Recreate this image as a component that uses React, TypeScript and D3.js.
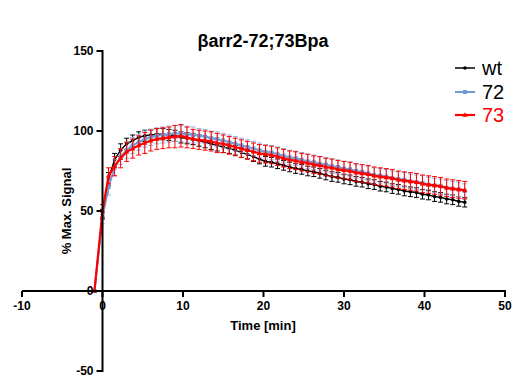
import React from "react";
import * as d3 from "d3";

const W = 519;
const H = 382;

const times = [-1, 0, 0.75, 1.5, 2.25, 3, 3.75, 4.5, 5.25, 6, 6.75, 7.5, 8.25, 9, 9.75, 10.5, 11.25, 12, 12.75, 13.5, 14.25, 15, 15.75, 16.5, 17.25, 18, 18.75, 19.5, 20.25, 21, 21.75, 22.5, 23.25, 24, 24.75, 25.5, 26.25, 27, 27.75, 28.5, 29.25, 30, 30.75, 31.5, 32.25, 33, 33.75, 34.5, 35.25, 36, 36.75, 37.5, 38.25, 39, 39.75, 40.5, 41.25, 42, 42.75, 43.5, 44.25, 45];

const wtValues = [0, 48, 70, 82, 88, 92, 94, 96, 97, 97.5, 98, 98, 97.5, 97, 96, 95.5, 95, 94, 93, 92, 91, 90, 89, 88, 86.5, 85.5, 84, 82.5, 81, 80.5, 79.5, 78.5, 77.5, 76.5, 76, 75, 74.5, 73.5, 72.5, 71.5, 71, 70, 69.5, 68.5, 68, 67, 66.5, 65.5, 65, 64, 63.5, 62.5, 62, 61.5, 60.5, 60, 59, 58.5, 57.5, 57, 56, 55.5];
const wtErr = [0, 3, 4, 4, 4, 3.5, 3.5, 3.5, 3.5, 3.5, 3.5, 3.5, 3.5, 3.5, 3.5, 3.5, 3.5, 3.5, 3.5, 3.5, 3.5, 3.5, 3, 3, 3, 3, 3, 3, 3, 3, 3, 3, 3, 3, 3, 3, 3, 3, 3, 3, 3, 3, 3, 3, 3, 3, 3, 3, 3, 3, 3, 3, 3, 3, 3, 3, 3, 3, 3, 3, 3, 3];

const v72Values = [0, 46, 65, 77, 84, 88, 91, 93, 95, 96, 97, 97.5, 98, 98.5, 98.5, 98, 97.5, 97, 96.5, 95.5, 95, 94, 93, 92, 91, 90, 89, 88, 87, 86.5, 85.5, 84.5, 83.5, 83, 82, 81, 80.5, 79.5, 79, 78, 77.5, 76.5, 76, 75, 74.5, 73.5, 72.5, 72, 71.5, 70.5, 70, 69.5, 68.5, 68, 67.5, 66.5, 66, 65.5, 64.5, 64, 63.5, 62.5];
const v72Err = [0, 4, 5, 5, 5, 5, 5, 5, 5, 5, 5, 5, 5, 5, 5, 5, 5, 4.5, 4.5, 4.5, 4.5, 4.5, 4.5, 4.5, 4.5, 4.5, 4.5, 4.5, 4.5, 4.5, 4.5, 4.5, 4.5, 4.5, 4.5, 4.5, 4.5, 4.5, 4.5, 4.5, 4.5, 4.5, 4.5, 4.5, 4.5, 4.5, 4.5, 4.5, 4.5, 4.5, 4.5, 4.5, 4.5, 4.5, 4.5, 4.5, 4.5, 4.5, 4.5, 4.5, 4.5, 4.5];

const v73Values = [0, 50, 72, 78, 83, 87, 89, 91, 92.5, 94, 95, 95.5, 96, 96.5, 97, 96, 95, 94.5, 94, 93.5, 92.5, 92, 91, 90, 89, 88, 87, 86, 85.5, 85, 84, 83, 82, 81.5, 80.5, 80, 79, 78.5, 77.5, 77, 76, 75.5, 75, 74, 73.5, 73, 72, 71.5, 71, 70.5, 69.5, 69, 68.5, 68, 67, 66.5, 66, 65.5, 64.5, 64, 63.5, 63];
const v73Err = [0, 4, 5, 6, 6, 6, 6, 6, 6.5, 6.5, 6.5, 6.5, 6.5, 7, 7, 6.5, 6, 6, 6, 6, 6, 5.5, 5.5, 5.5, 5.5, 5.5, 5.5, 5.5, 5.5, 5.5, 5.5, 5.5, 5.5, 5.5, 5.5, 5.5, 5.5, 5.5, 5.5, 5.5, 5.5, 5.5, 5.5, 5.5, 5.5, 5.5, 5.5, 5.5, 5.5, 5.5, 5.5, 5.5, 5.5, 5.5, 5.5, 5.5, 5.5, 5.5, 5.5, 5.5, 5.5, 5.5];

const seriesNames = ["wt", "72", "73"];
const xTicks = [-10, 0, 10, 20, 30, 40, 50];
const yTicks = [-50, 0, 50, 100, 150];

const FONT = "'Liberation Sans', Arial, sans-serif";

type Series = { name: string; values: number[]; err: number[]; color: string; errColor: string; marker: string; lw: number };

const series: Series[] = [
  { name: seriesNames[0], values: wtValues, err: wtErr, color: "#000000", errColor: "#000000", marker: "circle", lw: 1.5 },
  { name: seriesNames[1], values: v72Values, err: v72Err, color: "#6f9bd6", errColor: "#93b4e0", marker: "square", lw: 2 },
  { name: seriesNames[2], values: v73Values, err: v73Err, color: "#ff0000", errColor: "#ff0000", marker: "triangle", lw: 2.2 },
];

function Marker({ kind, x, y, color }: { kind: string; x: number; y: number; color: string }) {
  if (kind === "circle") return <circle cx={x} cy={y} r={1.8} fill={color} />;
  if (kind === "square") return <rect x={x - 2} y={y - 2} width={4} height={4} fill={color} />;
  return <path d={`M${x},${y - 2.8}L${x + 2.6},${y + 1.8}L${x - 2.6},${y + 1.8}Z`} fill={color} />;
}

export default function App() {
  const x = d3.scaleLinear().domain([-10, 50]).range([22, 505]);
  const y = d3.scaleLinear().domain([-50, 150]).range([371, 51]);
  const x0 = x(0);
  const y0 = y(0);
  const line = d3
    .line<number>()
    .x((_, i) => x(times[i]))
    .y((d) => y(d));

  const legendY = [68, 92, 115];

  return (
    <svg width={W} height={H} style={{ position: "absolute", left: 0, top: 0, background: "#fff" }}>
      <rect width={W} height={H} fill="#fff" />
      <text x={263} y={47} textAnchor="middle" fontFamily={FONT} fontWeight="bold" fontSize={18}>
        βarr2-72;73Bpa
      </text>

      {/* data */}
      {series.map((s) => (
        <g key={s.name}>
          {s.values.map((v, i) => {
            const e = s.err[i];
            if (!e) return null;
            const cx = x(times[i]);
            return (
              <g key={i} stroke={s.errColor} strokeWidth={1}>
                <line x1={cx} x2={cx} y1={y(v - e)} y2={y(v + e)} />
                <line x1={cx - 2.5} x2={cx + 2.5} y1={y(v - e)} y2={y(v - e)} />
                <line x1={cx - 2.5} x2={cx + 2.5} y1={y(v + e)} y2={y(v + e)} />
              </g>
            );
          })}
          <path d={line(s.values) || ""} fill="none" stroke={s.color} strokeWidth={s.lw} />
          {s.values.map((v, i) => (
            <Marker key={i} kind={s.marker} x={x(times[i])} y={y(v)} color={s.color} />
          ))}
        </g>
      ))}

      {/* axes */}
      <line x1={x(-10)} x2={x(50) + 1} y1={y0} y2={y0} stroke="#000" strokeWidth={2} />
      {xTicks.map((t) => (
        <g key={t}>
          <line x1={x(t)} x2={x(t)} y1={y0} y2={y0 + 6} stroke="#000" strokeWidth={2} />
          <text x={x(t)} y={y0 + 19} textAnchor="middle" fontFamily={FONT} fontWeight="bold" fontSize={12}>
            {t}
          </text>
        </g>
      ))}
      <line x1={x0} x2={x0} y1={y(150) - 1} y2={y(-50) + 1} stroke="#000" strokeWidth={2} />
      {yTicks.map((t) => (
        <g key={t}>
          <line x1={x0 - 6} x2={x0} y1={y(t)} y2={y(t)} stroke="#000" strokeWidth={2} />
          <text x={x0 - 9} y={y(t) + 4} textAnchor="end" fontFamily={FONT} fontWeight="bold" fontSize={12}>
            {t}
          </text>
        </g>
      ))}
      <text x={263} y={330} textAnchor="middle" fontFamily={FONT} fontWeight="bold" fontSize={13}>
        Time [min]
      </text>
      <text
        transform={`translate(71,${y(50)}) rotate(-90)`}
        textAnchor="middle"
        fontFamily={FONT}
        fontWeight="bold"
        fontSize={13}
      >
        % Max. Signal
      </text>

      {/* legend */}
      {series.map((s, i) => (
        <g key={s.name}>
          <line x1={455} x2={475} y1={legendY[i]} y2={legendY[i]} stroke={s.color} strokeWidth={s.lw} />
          <Marker kind={s.marker} x={465} y={legendY[i]} color={s.color} />
          <text x={482} y={legendY[i] + 7} fontFamily={FONT} fontSize={20} fill={i === 2 ? "#ff0000" : "#000"}>
            {s.name}
          </text>
        </g>
      ))}
    </svg>
  );
}
